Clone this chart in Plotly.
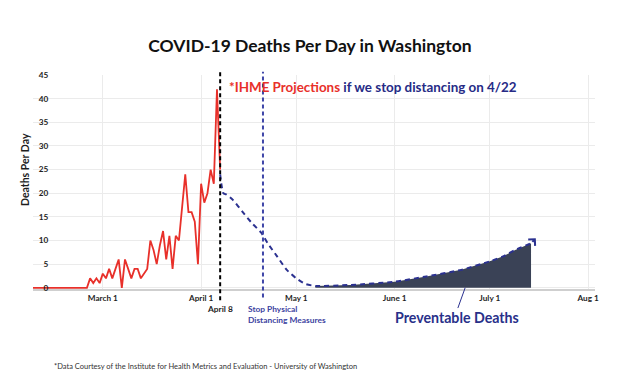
import pandas as pd
import plotly.graph_objects as go

# ---------------- data ----------------
reported_dates = pd.date_range("2020-02-08", "2020-04-07", freq="D").strftime("%Y-%m-%d").tolist()
reported_deaths = [0] * 18 + [
    2, 1, 2, 1,                      # Feb 26 - Feb 29
    3, 2, 4, 2, 4, 6, 0, 6, 4, 2,    # Mar 1 - Mar 10
    4, 4, 2, 3, 4, 10, 8, 5, 9, 12,  # Mar 11 - Mar 20
    6, 11, 4, 11, 10, 17, 24, 16, 16, 14,  # Mar 21 - Mar 30
    5,                               # Mar 31
    22, 18, 20, 25, 22, 42, 25,      # Apr 1 - Apr 7
]

projection_dates = [
    "2020-04-07", "2020-04-08", "2020-04-09", "2020-04-11", "2020-04-14",
    "2020-04-17", "2020-04-20", "2020-04-22", "2020-04-25", "2020-04-28",
    "2020-05-01", "2020-05-04", "2020-05-07", "2020-05-18", "2020-06-01",
    "2020-06-11", "2020-06-22", "2020-07-01", "2020-07-05", "2020-07-09",
    "2020-07-14",
]
projection_deaths = [
    24, 20, 19.7, 18.6, 16.1,
    13.7, 11.6, 9.4, 6.6, 3.8,
    2.0, 0.8, 0.4, 0.6, 1.3,
    2.4, 3.8, 5.6, 6.6, 8.0,
    9.4,
]
preventable_start = "2020-05-07"
arrow_tip = ("2020-07-15 12:00", 10.5)

last_data_date = "2020-04-07"
stop_distancing_date = "2020-04-20 12:00"

x_tickvals = ["2020-03-01", "2020-04-01", "2020-05-01", "2020-06-01", "2020-07-01", "2020-08-01"]
x_ticktext = ["March 1", "April 1", "May 1", "June 1", "July 1", "Aug 1"]
y_tickvals = [0, 5, 10, 15, 20, 25, 30, 35, 40, 45]

# ---------------- styling ----------------
FONT = "Lato"
RED = "#e8302a"
NAVY = "#2b3190"
SLATE = "#3a4256"
DARK = "#1e1e1e"

prev_x = [d for d in projection_dates if d >= preventable_start]
prev_y = [v for d, v in zip(projection_dates, projection_deaths) if d >= preventable_start]

fig = go.Figure()

fig.add_trace(go.Scatter(
    x=prev_x, y=prev_y, mode="lines", fill="tozeroy",
    fillcolor=SLATE, line=dict(width=0, color=SLATE), hoverinfo="skip",
    showlegend=False,
))
fig.add_trace(go.Scatter(
    x=projection_dates, y=projection_deaths, mode="lines",
    line=dict(color=NAVY, width=2, dash="5px,4px", shape="spline", smoothing=0.6),
    showlegend=False,
))
fig.add_trace(go.Scatter(
    x=reported_dates, y=reported_deaths, mode="lines",
    line=dict(color=RED, width=1.8),
    showlegend=False,
))

# vertical marker lines
fig.add_shape(type="line", xref="x", yref="paper", x0=last_data_date, x1=last_data_date,
              y0=-0.052, y1=1.02, line=dict(color="black", width=2, dash="4px,3px"))
fig.add_shape(type="line", xref="x", yref="paper", x0=stop_distancing_date, x1=stop_distancing_date,
              y0=-0.04, y1=1.015, line=dict(color="#3f46a8", width=2, dash="4px,3px"))
# pointer for "Preventable Deaths"
fig.add_shape(type="line", xref="paper", yref="paper", x0=0.756, y0=-0.089, x1=0.769, y1=0.006,
              line=dict(color=NAVY, width=1))

# end arrow
fig.add_annotation(x=arrow_tip[0], y=arrow_tip[1], ax=projection_dates[-1], ay=projection_deaths[-1],
                   xref="x", yref="y", axref="x", ayref="y", text="", showarrow=True,
                   arrowhead=4, arrowsize=0.9, arrowwidth=2, arrowcolor=NAVY)

fig.add_annotation(
    xref="paper", yref="paper", x=-0.0142, y=0.556, xanchor="center", yanchor="middle",
    textangle=-90, text="<b>Deaths Per Day</b>", showarrow=False,
    font=dict(family=FONT, size=10.5, color=DARK),
)
fig.add_annotation(
    xref="paper", yref="paper", x=0.345, y=0.944, xanchor="left", yanchor="middle",
    text=f"<b><span style='color:{RED}'>*IHME Projections</span> "
         f"<span style='color:#262b86'>if we stop distancing on 4/22</span></b>",
    showarrow=False, font=dict(family=FONT, size=13.4),
)
fig.add_annotation(
    xref="x", yref="paper", x=last_data_date, y=-0.095, xanchor="center", yanchor="middle",
    text="<b>April 8</b>", showarrow=False, font=dict(family=FONT, size=8.4, color=DARK),
)
fig.add_annotation(
    xref="paper", yref="paper", x=0.379, y=-0.118, xanchor="left", yanchor="middle", align="left",
    text="<b>Stop Physical<br>Distancing Measures</b>", showarrow=False,
    font=dict(family=FONT, size=8.4, color="#3c42a0"),
)
fig.add_annotation(
    xref="paper", yref="paper", x=0.754, y=-0.132, xanchor="center", yanchor="middle",
    text="<b>Preventable Deaths</b>", showarrow=False,
    font=dict(family=FONT, size=14.2, color="#283089"),
)
fig.add_annotation(
    xref="paper", yref="paper", x=0.034, y=-0.364, xanchor="left", yanchor="middle",
    text="*Data Courtesy of the Institute for Health Metrics and Evaluation - University of Washington",
    showarrow=False, font=dict(family=FONT, size=7.5, color="#333333"),
)

fig.update_layout(
    width=620, height=388,
    margin=dict(l=33, r=25, t=75, b=99),
    paper_bgcolor="white", plot_bgcolor="white",
    font=dict(family=FONT, color=DARK),
    title=dict(text="<b>COVID-19 Deaths Per Day in Washington</b>", x=0.5, xanchor="center",
               y=1 - 46 / 388, yanchor="middle", font=dict(family=FONT, size=17.5, color="#111111")),
    xaxis=dict(
        type="date", range=["2020-02-08", "2020-08-03 04:00"],
        tickvals=x_tickvals, ticktext=x_ticktext, ticks="",
        tickfont=dict(family=FONT, size=8.2, color=DARK, weight="bold"),
        showgrid=True, gridcolor="#ebebeb", gridwidth=1,
        showline=True, linecolor="#cfcfcf", linewidth=2, zeroline=False,
    ),
    yaxis=dict(
        range=[-0.25, 45], tickvals=y_tickvals, ticks="",
        anchor="free", position=0.027,
        tickfont=dict(family=FONT, size=8.2, color=DARK, weight="bold"),
        showgrid=True, gridcolor="#ebebeb", gridwidth=1,
        showline=False, zeroline=False,
    ),
)

fig.write_html("out.html", config={"displayModeBar": False},
               post_script="document.body.style.margin='0';document.body.style.padding='0';")
